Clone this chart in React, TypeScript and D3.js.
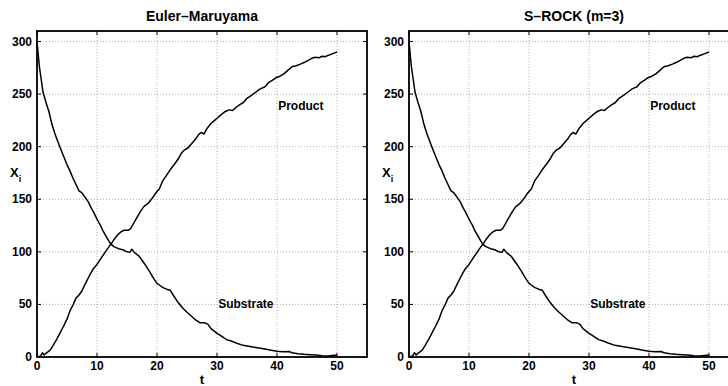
import React from "react";
import * as d3 from "d3";

const subT = [0, 0.4, 1, 1.5, 2, 2.5, 3, 3.8, 4.5, 5, 5.5, 6, 6.5, 7, 7.5, 8, 8.6, 9, 9.5, 10, 10.5, 11, 11.5, 12.2, 12.8, 13.6, 14.3, 15, 15.5, 15.8, 16.3, 17, 17.5, 18, 18.8, 19.3, 20, 20.5, 21, 21.6, 22.2, 22.8, 23.5, 24.2, 25, 25.8, 26.5, 27.2, 28, 28.5, 29, 29.9, 30.8, 31.6, 32.5, 33.3, 34.1, 35, 36, 37, 38, 39, 40, 41, 42, 42.5, 43.5, 44.5, 45.5, 46.5, 47.5, 48.5, 49.2, 50];
const subV = [300, 276, 252, 242, 233, 221, 212, 200, 190, 183, 177, 170, 164, 158, 156, 152, 147, 142, 137, 131, 126, 120, 115, 108, 105, 103, 102, 100, 99.5, 102.5, 99, 96, 92, 88, 81, 76, 70, 68, 66, 64.5, 63.5, 58, 52, 47, 42.5, 38.5, 35, 32.5, 32.5, 31, 27, 23, 19.5, 16.5, 15, 13, 11.5, 10.5, 9.5, 8.5, 7.5, 6.5, 5.5, 5, 5.2, 4, 3, 2.5, 2.2, 1.8, 1.2, 1, 1.5, 1.8];

const prodT = [0, 0.6, 0.9, 1.2, 1.6, 2.2, 2.7, 3.3, 3.8, 4.4, 5, 5.5, 6.05, 6.5, 7, 7.5, 8, 8.8, 9.4, 10, 10.8, 11.4, 12, 12.4, 13, 13.5, 14, 14.5, 15.2, 15.6, 16, 16.5, 17.2, 17.8, 18.5, 19.2, 19.8, 20.4, 21, 21.5, 22.2, 23, 23.6, 24.1, 24.6, 25.2, 25.8, 26.4, 27, 27.4, 27.8, 28.3, 29, 29.6, 30.2, 30.8, 31.4, 32, 32.6, 33.2, 33.8, 34.4, 35, 35.8, 36.5, 37.2, 38, 38.6, 39.2, 39.8, 40.5, 41.2, 41.8, 42.5, 43.2, 43.9, 44.5, 45.2, 45.8, 46.4, 47, 47.5, 48, 48.6, 49.3, 50];
const prodV = [0, 1, 4, 2, 4, 6.5, 11, 17, 22.5, 29, 36, 44, 50, 56, 59, 63, 69, 78, 84, 88, 95, 100, 105, 108, 113, 116.5, 119, 120.5, 120.5, 122, 126, 131, 138, 143, 146, 151, 156, 160, 168, 172, 178, 184, 189, 194, 197, 199, 203, 207, 212, 213.5, 212, 217, 222, 225, 228, 231, 233.5, 235, 234.5, 237.5, 240, 242, 246, 249, 252, 255, 257, 261, 263, 265.5, 267, 269.5, 272.5, 276, 277, 278.5, 280, 282, 284, 285, 284.5, 286, 285.5, 287, 288.5, 290];

const xTicks = [0, 10, 20, 30, 40, 50];
const yTicks = [0, 50, 100, 150, 200, 250, 300];
const titles = ["Euler\u2013Maruyama", "S\u2013ROCK (m=3)"];
const panelLefts = [37, 409];

const FONT = "'Liberation Sans Narrow', 'Liberation Sans', Arial, sans-serif";

function Panel({ left, title }: { left: number; title: string }) {
  const top = 31;
  const w = 330;
  const h = 326;
  const x = d3.scaleLinear().domain([0, 55]).range([0, w]);
  const y = d3.scaleLinear().domain([0, 310]).range([h, 0]);
  const line = d3
    .line<[number, number]>()
    .x((d) => x(d[0]))
    .y((d) => y(d[1]));
  const sub = subT.map((t, i) => [t, subV[i]] as [number, number]);
  const prod = prodT.map((t, i) => [t, prodV[i]] as [number, number]);
  const tl = 4;
  return (
    <g transform={`translate(${left},${top})`} fontFamily={FONT} fontWeight="bold">
      <rect x={0} y={0} width={w} height={h} fill="#fff" />
      {xTicks.map((t) => (
        <line key={"gx" + t} x1={x(t)} x2={x(t)} y1={0} y2={h} stroke="#999" strokeWidth={0.8} strokeDasharray="1,2" />
      ))}
      {yTicks.map((t) => (
        <line key={"gy" + t} x1={0} x2={w} y1={y(t)} y2={y(t)} stroke="#999" strokeWidth={0.8} strokeDasharray="1,2" />
      ))}
      <path d={line(sub) || ""} fill="none" stroke="#000" strokeWidth={1.5} strokeLinejoin="round" />
      <path d={line(prod) || ""} fill="none" stroke="#000" strokeWidth={1.5} strokeLinejoin="round" />
      {xTicks.map((t) => (
        <g key={"tx" + t}>
          <line x1={x(t)} x2={x(t)} y1={h} y2={h - tl} stroke="#000" strokeWidth={1} />
          <line x1={x(t)} x2={x(t)} y1={0} y2={tl} stroke="#000" strokeWidth={1} />
          <text x={x(t)} y={h + 13} fontSize={12} textAnchor="middle">{t}</text>
        </g>
      ))}
      {yTicks.map((t) => (
        <g key={"ty" + t}>
          <line x1={0} x2={tl} y1={y(t)} y2={y(t)} stroke="#000" strokeWidth={1} />
          <line x1={w} x2={w - tl} y1={y(t)} y2={y(t)} stroke="#000" strokeWidth={1} />
          <text x={-5} y={y(t) + 4} fontSize={12} textAnchor="end">{t}</text>
        </g>
      ))}
      <rect x={0} y={0} width={w} height={h} fill="none" stroke="#000" strokeWidth={1.8} />
      <text x={x(40.2)} y={y(239.5) + 4.5} fontSize={12}>Product</text>
      <text x={x(30.2)} y={y(50.4) + 4.5} fontSize={12}>Substrate</text>
      <text x={w / 2} y={-10} fontSize={14} textAnchor="middle">{title}</text>
      <text x={w / 2} y={h + 27} fontSize={13} textAnchor="middle">t</text>
      <text x={-27} y={146} fontSize={13}>
        X<tspan fontSize={9} dy={5}>i</tspan>
      </text>
    </g>
  );
}

export default function App() {
  return (
    <svg width={728} height={386} style={{ position: "absolute", left: 0, top: 0, background: "#fff" }}>
      <rect width={728} height={386} fill="#fff" />
      {panelLefts.map((l, i) => (
        <Panel key={i} left={l} title={titles[i]} />
      ))}
    </svg>
  );
}
